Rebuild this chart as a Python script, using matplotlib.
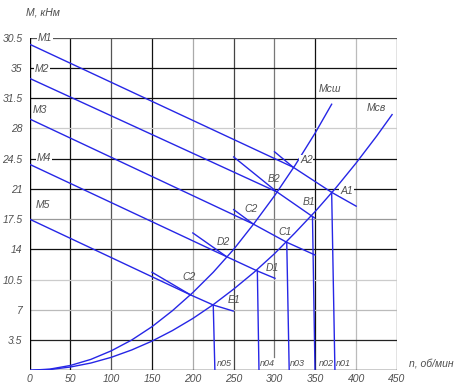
import matplotlib
matplotlib.use("Agg")
import matplotlib.pyplot as plt

FONT = ['Liberation Sans', 'DejaVu Sans']
TXT = '#505050'
BLUE = '#2626e6'

# load curves
n_cw = [0, 25, 50, 75, 100, 125, 150, 175, 200, 225, 250, 275, 300, 325, 350, 370]
m_cw = [0, 0.14, 0.56, 1.26, 2.25, 3.5, 5.05, 6.9, 9.0, 11.35, 14.0, 17.0, 20.2, 23.7, 27.5, 30.8]
n_cb = [0, 25, 50, 75, 100, 125, 150, 175, 200, 225, 250, 275, 300, 325, 350, 375, 400, 425, 444]
m_cb = [0, 0.09, 0.38, 0.84, 1.5, 2.35, 3.38, 4.6, 6.0, 7.6, 9.4, 11.35, 13.5, 15.9, 18.4, 21.1, 24.0, 27.1, 29.6]

# motor characteristics M1..M5
n_m1 = [0, 323, 370, 400]
m_m1 = [37.75, 23.5, 20.6, 19.0]
n_m2 = [0, 303, 346.5, 349]
m_m2 = [33.8, 20.65, 17.8, 17.65]
n_m3 = [0, 274, 315, 349.6]
m_m3 = [29.1, 16.93, 14.82, 13.35]
n_m4 = [0, 241.4, 279, 300.6]
m_m4 = [23.85, 13.15, 11.5, 10.65]
n_m5 = [0, 197.4, 225, 249.5]
m_m5 = [17.5, 8.72, 7.56, 6.86]

# short steep segments ending at the upper points
seg_n0 = [300, 250, 250, 200, 150]
seg_m0 = [25.3, 24.7, 18.6, 15.9, 11.35]
seg_n1 = [323, 303, 274, 241.4, 197.4]
seg_m1 = [23.5, 20.65, 16.93, 13.15, 8.72]

# verticals from working points down to the speed axis
vert_top_n = [370, 346.5, 315, 279, 225]
vert_top_m = [20.6, 17.8, 14.82, 11.5, 7.56]
vert_bot_n = [374, 349.6, 318, 281, 227]
n_names = ['n01', 'n02', 'n03', 'n04', 'n05']
n_name_x = [384, 363, 328, 291.5, 238]

y_ticks = [3.5, 7, 10.5, 14, 17.5, 21, 24.5, 28, 31.5, 35, 38.5]
y_tick_labels = ['3.5', '7', '10.5', '14', '17.5', '21', '24.5', '28', '31.5', '35', '30.5']
x_ticks = [0, 50, 100, 150, 200, 250, 300, 350, 400, 450]

fig = plt.figure(figsize=(4.59, 3.88), dpi=100)
ax = fig.add_axes([0.0643, 0.0456, 0.8006, 0.8572])
ax.set_xlim(0, 450)
ax.set_ylim(0, 38.5)
for s in ax.spines.values():
    s.set_visible(False)

# grid, each line with its own shade
vcol = {50: '#111111', 100: '#555555', 150: '#111111', 200: '#aaaaaa', 250: '#444444',
        300: '#777777', 350: '#111111', 400: '#bbbbbb', 450: '#222222'}
for x, c in vcol.items():
    y0 = 1.54 if x == 300 else 0
    ax.plot([x, x], [y0, 38.5], color=c, lw=0.9, zorder=1)
hcol = {3.5: '#222222', 7: '#bbbbbb', 10.5: '#cccccc', 14: '#111111', 17.5: '#999999',
        21: '#111111', 24.5: '#111111', 28: '#cccccc', 31.5: '#111111', 35: '#111111',
        38.5: '#555555'}
for y, c in hcol.items():
    ax.plot([0, 450], [y, y], color=c, lw=0.9, zorder=1)
ax.plot([0, 0], [0, 38.5], color='black', lw=1.0, zorder=1)
ax.plot([0, 450], [0, 0], color='black', lw=1.0, zorder=1)

lw = 1.0
ax.plot(n_cw, m_cw, color=BLUE, lw=lw, zorder=3)
ax.plot(n_cb, m_cb, color=BLUE, lw=lw, zorder=3)
for nn, mm in [(n_m1, m_m1), (n_m2, m_m2), (n_m3, m_m3), (n_m4, m_m4), (n_m5, m_m5)]:
    ax.plot(nn, mm, color=BLUE, lw=lw, zorder=3)
for a, b, c, d in zip(seg_n0, seg_m0, seg_n1, seg_m1):
    ax.plot([a, c], [b, d], color=BLUE, lw=lw, zorder=3)
for a, b, c in zip(vert_top_n, vert_top_m, vert_bot_n):
    ax.plot([a, c], [b, 0], color=BLUE, lw=lw, zorder=3)

ax.set_xticks(x_ticks)
ax.set_yticks(y_ticks)
ax.set_yticklabels(y_tick_labels)
ax.tick_params(axis='y', length=0, pad=5, labelsize=7.5, labelcolor=TXT)
ax.tick_params(axis='x', length=0, pad=3, labelsize=7.5, labelcolor=TXT)
for lab in ax.get_xticklabels() + ax.get_yticklabels():
    lab.set_family(FONT)
    lab.set_style('italic')

bb = dict(facecolor='white', edgecolor='none', pad=0.6)
def label(x, y, s, size=7.5, box=True):
    ax.text(x, y, s, fontsize=size, color=TXT, style='italic', family=FONT,
            ha='center', va='center', zorder=4, bbox=bb if box else None)

label(19, 38.5, 'M1')
label(15.3, 34.9, 'M2')
label(12.9, 30.1, 'M3', box=False)
label(17.8, 24.6, 'M4')
label(16.5, 19.1, 'M5', box=False)
label(339, 24.3, 'A2')
label(388, 20.8, 'A1')
label(299.4, 22.15, 'B2', box=False)
label(342.2, 19.45, 'B1', box=False)
label(271.2, 18.7, 'C2', box=False)
label(312.8, 16.0, 'C1', box=False)
label(237.5, 14.9, 'D2', box=False)
label(297.5, 11.9, 'D1', box=False)
label(195.3, 10.75, 'C2', box=False)
label(250.4, 8.1, 'E1', box=False)
label(368, 32.6, 'Mсш', box=False)
label(424.3, 30.4, 'Mсв', box=False)
for x, s in zip(n_name_x, n_names):
    label(x, 0.8, s, size=6.5, box=False)

fig.text(0.057, 0.968, 'M, кНм', fontsize=7.5, color=TXT, style='italic', family=FONT,
         ha='left', va='center')
fig.text(0.892, 0.062, 'n, об/мин', fontsize=7.5, color=TXT, style='italic', family=FONT,
         ha='left', va='center')

fig.savefig('out.png', dpi=100)
